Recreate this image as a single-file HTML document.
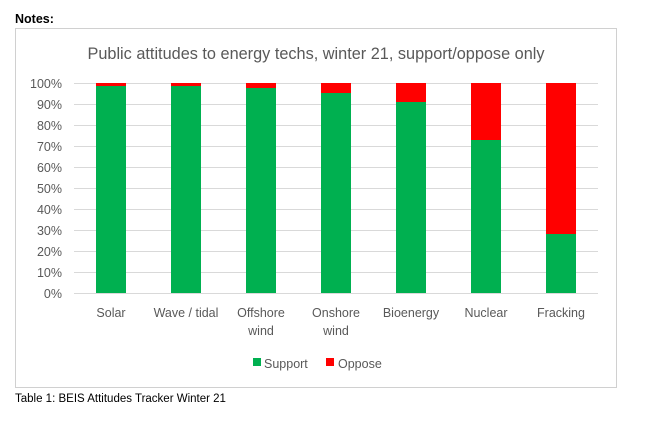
<!DOCTYPE html>
<html><head><meta charset="utf-8"><style>
body{margin:0;background:#fff;width:645px;height:423px;overflow:hidden;font-family:"Liberation Sans",sans-serif}
</style></head><body>
<svg width="645" height="423" xmlns="http://www.w3.org/2000/svg" font-family="Liberation Sans, sans-serif">
<text x="15" y="23" font-size="12.5" font-weight="bold" fill="#000">Notes:</text>
<rect x="15.5" y="28.5" width="601" height="359" fill="#fff" stroke="#d0d0d0"/>
<text x="316" y="59" font-size="16.3" fill="#595959" text-anchor="middle">Public attitudes to energy techs, winter 21, support/oppose only</text>
<g stroke="#d9d9d9" stroke-width="1">
<line x1="74" x2="598" y1="83.5" y2="83.5"/><line x1="74" x2="598" y1="104.5" y2="104.5"/>
<line x1="74" x2="598" y1="125.5" y2="125.5"/><line x1="74" x2="598" y1="146.5" y2="146.5"/>
<line x1="74" x2="598" y1="167.5" y2="167.5"/><line x1="74" x2="598" y1="188.5" y2="188.5"/>
<line x1="74" x2="598" y1="209.5" y2="209.5"/><line x1="74" x2="598" y1="230.5" y2="230.5"/>
<line x1="74" x2="598" y1="251.5" y2="251.5"/><line x1="74" x2="598" y1="272.5" y2="272.5"/>
<line x1="74" x2="598" y1="293.5" y2="293.5"/>
</g>
<g font-size="12.5" fill="#595959" text-anchor="end">
<text x="62" y="88">100%</text><text x="62" y="109">90%</text><text x="62" y="130">80%</text>
<text x="62" y="151">70%</text><text x="62" y="172">60%</text><text x="62" y="193">50%</text>
<text x="62" y="214">40%</text><text x="62" y="235">30%</text><text x="62" y="256">20%</text>
<text x="62" y="277">10%</text><text x="62" y="298">0%</text>
</g>
<g>
<rect x="96" y="83" width="30" height="3" fill="#ff0000"/><rect x="96" y="86" width="30" height="207" fill="#00b050"/>
<rect x="171" y="83" width="30" height="3" fill="#ff0000"/><rect x="171" y="86" width="30" height="207" fill="#00b050"/>
<rect x="246" y="83" width="30" height="5" fill="#ff0000"/><rect x="246" y="88" width="30" height="205" fill="#00b050"/>
<rect x="321" y="83" width="30" height="10" fill="#ff0000"/><rect x="321" y="93" width="30" height="200" fill="#00b050"/>
<rect x="396" y="83" width="30" height="19" fill="#ff0000"/><rect x="396" y="102" width="30" height="191" fill="#00b050"/>
<rect x="471" y="83" width="30" height="57" fill="#ff0000"/><rect x="471" y="140" width="30" height="153" fill="#00b050"/>
<rect x="546" y="83" width="30" height="151" fill="#ff0000"/><rect x="546" y="234" width="30" height="59" fill="#00b050"/>
</g>
<g font-size="12.5" fill="#595959" text-anchor="middle">
<text x="111" y="317">Solar</text><text x="186" y="317">Wave / tidal</text>
<text x="261" y="317">Offshore</text><text x="261" y="335">wind</text>
<text x="336" y="317">Onshore</text><text x="336" y="335">wind</text>
<text x="411" y="317">Bioenergy</text><text x="486" y="317">Nuclear</text><text x="561" y="317">Fracking</text>
</g>
<rect x="253" y="358" width="8" height="8" fill="#00b050"/>
<text x="264" y="368" font-size="12.5" fill="#595959">Support</text>
<rect x="326" y="358" width="8" height="8" fill="#ff0000"/>
<text x="338" y="368" font-size="12.5" fill="#595959">Oppose</text>
<text x="15" y="402" font-size="11.5" fill="#000">Table 1: BEIS Attitudes Tracker Winter 21</text>
</svg>
</body></html>
